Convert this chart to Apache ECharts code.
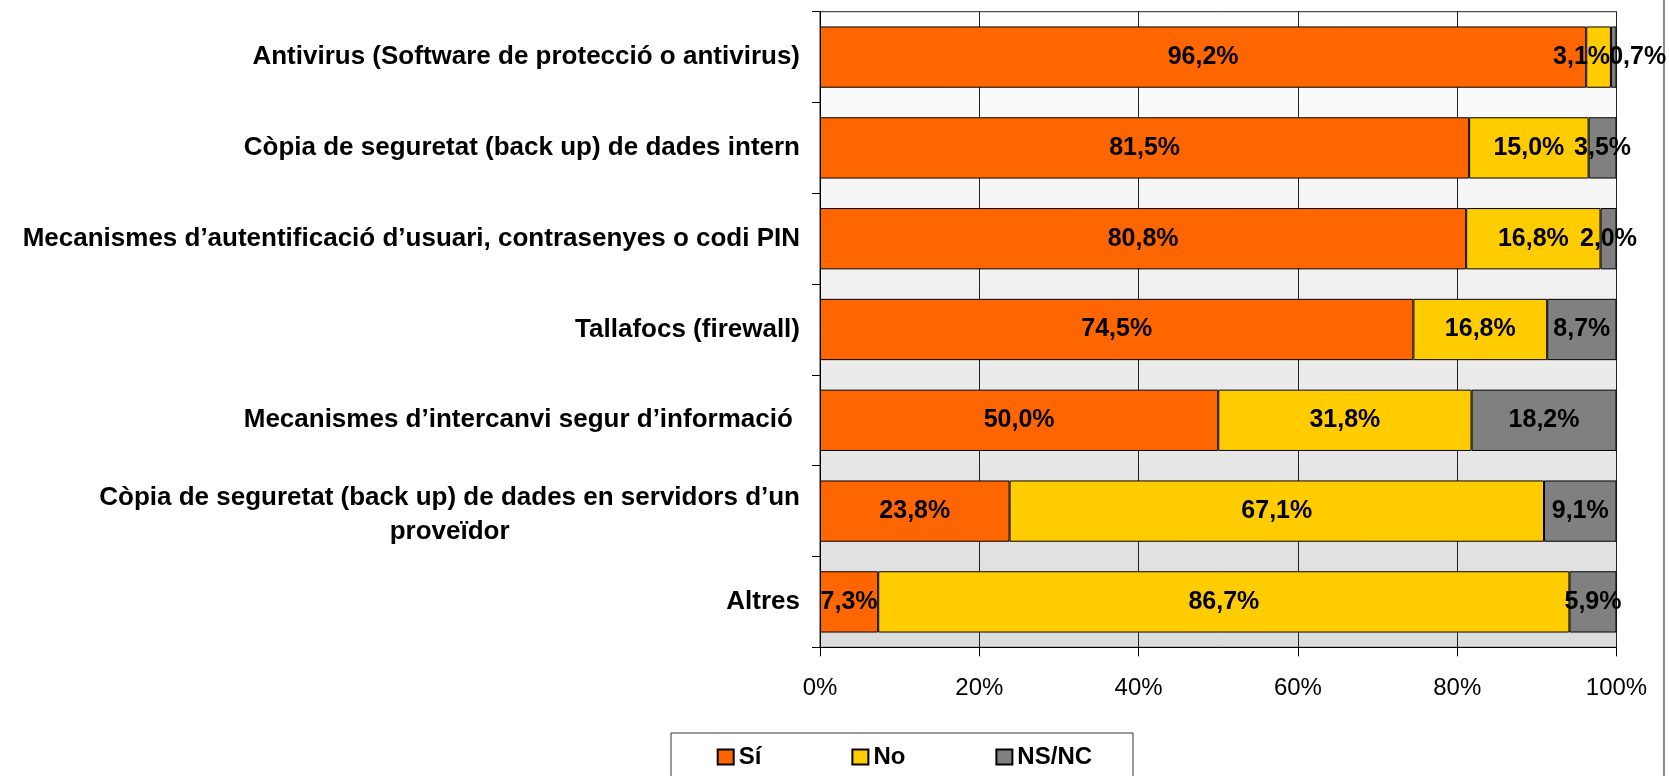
<!DOCTYPE html>
<html>
<head>
<meta charset="utf-8">
<script src="https://cdn.jsdelivr.net/npm/echarts@6/dist/echarts.min.js"></script>
<style>
html,body{margin:0;padding:0;background:#fff;}
#chart{width:1669px;height:776px;}
</style>
</head>
<body>
<div id="chart"></div>
<script>
// ---- data ----
var categories = [
  'Antivirus (Software de protecció o antivirus)',
  'Còpia de seguretat (back up) de dades intern',
  'Mecanismes d\u2019autentificació d\u2019usuari, contrasenyes o codi PIN',
  'Tallafocs (firewall)',
  'Mecanismes d\u2019intercanvi segur d\u2019informació ',
  'Còpia de seguretat (back up) de dades en servidors d\u2019un\nproveïdor',
  'Altres'
];
var seriesNames = ['Sí', 'No', 'NS/NC'];
var siValues = [96.2, 81.5, 80.8, 74.5, 50.0, 23.8, 7.3];
var noValues = [3.1, 15.0, 16.8, 16.8, 31.8, 67.1, 86.7];
var nsValues = [0.7, 3.5, 2.0, 8.7, 18.2, 9.1, 5.9];
var xTicks = [0, 20, 40, 60, 80, 100];
var colors = ['#FF6600', '#FFCC00', '#808080'];

// ---- 100% stacked: normalise each row ----
var raw = [siValues, noValues, nsValues];
var totals = categories.map(function (c, i) { return siValues[i] + noValues[i] + nsValues[i]; });

var FONT = '"Liberation Sans", Arial, sans-serif';

// label nudges used by the original to keep very small segment labels apart (series index -> {row: [dx, dy]})
var labelNudge = { 1: { 0: [-17, 0] }, 2: { 0: [24, 0] } };

var series = raw.map(function (arr, k) {
  return {
    name: seriesNames[k],
    type: 'bar',
    stack: 'total',
    barCategoryGap: '32.5%',
    data: arr.map(function (v, i) {
      var item = { value: v / totals[i] * 100 };
      if (labelNudge[k] && labelNudge[k][i]) item.label = { offset: labelNudge[k][i] };
      return item;
    }),
    itemStyle: { color: colors[k], borderColor: '#000', borderWidth: 1 },
    label: {
      show: true,
      position: 'inside',
      color: '#000',
      fontFamily: FONT,
      fontWeight: 'bold',
      fontSize: 25,
      formatter: function (p) { return arr[p.dataIndex].toFixed(1).replace('.', ',') + '%'; }
    },
    emphasis: { disabled: true },
    animation: false
  };
});

var chart = echarts.init(document.getElementById('chart'), null, { renderer: 'canvas' });
chart.setOption({
  animation: false,
  backgroundColor: '#fff',
  grid: {
    left: 820, right: 52.5, top: 11.7, bottom: 128.7,
    show: true,
    borderColor: '#222', borderWidth: 1,
    backgroundColor: {
      type: 'linear', x: 0, y: 0, x2: 0, y2: 1,
      colorStops: [{ offset: 0, color: '#ffffff' }, { offset: 1, color: '#dcdcdc' }]
    }
  },
  xAxis: {
    type: 'value', min: xTicks[0], max: xTicks[xTicks.length - 1], interval: 20,
    axisLine: { show: true, lineStyle: { color: '#000', width: 1 } },
    axisTick: { show: true, length: 9, lineStyle: { color: '#000' } },
    splitLine: { show: true, lineStyle: { color: '#222', width: 1 } },
    axisLabel: { formatter: '{value}%', color: '#000', fontFamily: FONT, fontSize: 24, margin: 29 }
  },
  yAxis: {
    type: 'category', inverse: true, data: categories,
    axisLine: { show: true, lineStyle: { color: '#000', width: 1 } },
    axisTick: { show: true, length: 8, lineStyle: { color: '#000' } },
    axisLabel: {
      color: '#000', fontFamily: FONT, fontWeight: 'bold', fontSize: 26, margin: 20, lineHeight: 34,
      formatter: function (v) {
        var lines = v.split('\n');
        if (lines.length === 1) return '{a|' + v + '}';
        return '{s| }\n' + lines.map(function (l, i) { return (i === 0 ? '{a|' : '{c|') + l + '}'; }).join('\n');
      },
      rich: {
        s: { fontSize: 1, lineHeight: 8 },
        a: { fontFamily: FONT, fontWeight: 'bold', fontSize: 26, color: '#000', lineHeight: 34 },
        c: { fontFamily: FONT, fontWeight: 'bold', fontSize: 26, color: '#000', lineHeight: 34, align: 'center' }
      }
    }
  },
  legend: {
    data: seriesNames,
    left: 716.7, top: 745, padding: 0,
    itemWidth: 16, itemHeight: 15, itemGap: 90,
    icon: 'rect',
    textStyle: { color: '#000', fontFamily: FONT, fontWeight: 'bold', fontSize: 24 },
    selectedMode: false
  },
  graphic: [
    { type: 'rect', left: 668.5, top: 730.5, shape: { width: 462, height: 80 }, style: { fill: 'none', stroke: '#333', lineWidth: 1 }, z: 100, silent: true },
    { type: 'rect', left: 1663, top: 0, shape: { width: 2, height: 776 }, style: { fill: '#8c8c8c' }, silent: true }
  ],
  series: series
});
</script>
</body>
</html>
